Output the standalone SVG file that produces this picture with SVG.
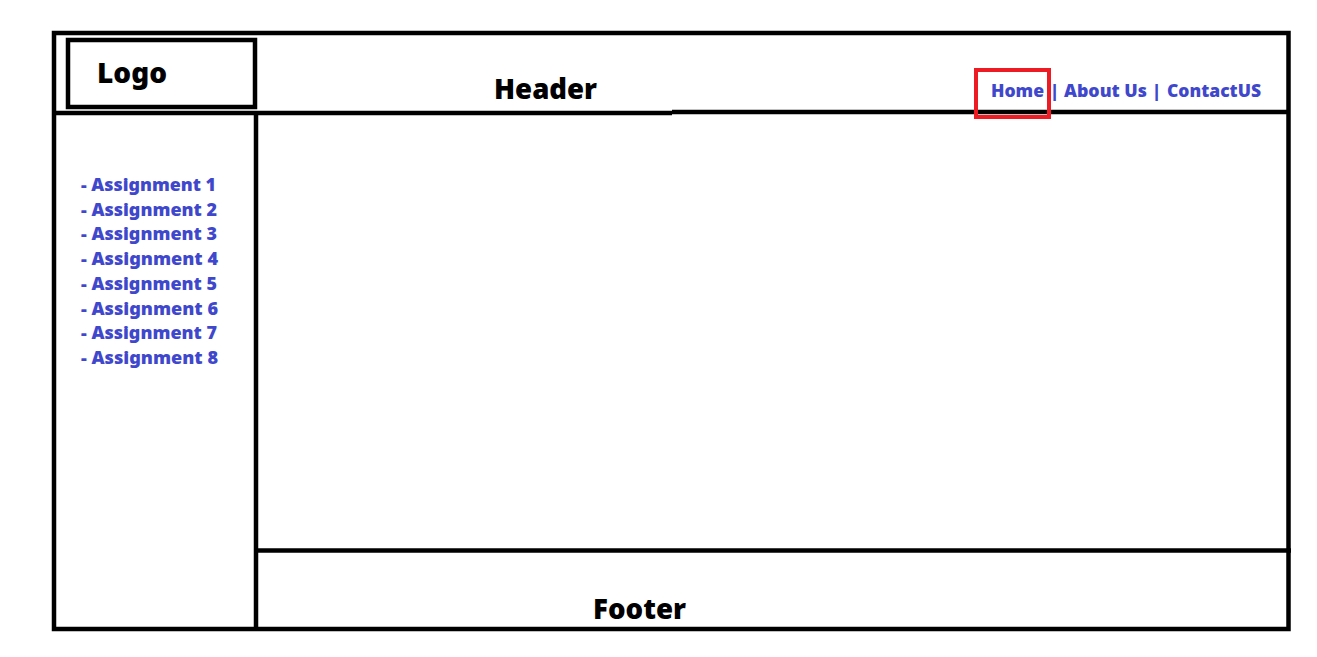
<svg xmlns="http://www.w3.org/2000/svg" width="1317" height="657" viewBox="0 0 1317 657">
<style>
.ln{stroke:#000;stroke-width:4.5;fill:none}
.t{font-family:"Noto Sans","Open Sans","Liberation Sans",sans-serif;font-weight:900;fill:#000;font-size:28px}
.b{font-family:"Noto Sans","Open Sans","Liberation Sans",sans-serif;font-weight:900;fill:#3F48CC;font-size:18px}
</style>
<rect width="1317" height="657" fill="#fff"/>
<g id="frame">
<rect class="ln" x="54" y="33" width="1234.5" height="596"/>
</g>
<g id="logo">
<rect class="ln" x="68" y="40" width="187" height="67"/>
<text class="t" x="97" y="83" textLength="70" lengthAdjust="spacingAndGlyphs">Logo</text>
</g>
<g id="header">
<line class="ln" x1="54" y1="113" x2="672" y2="113"/>
<line class="ln" x1="672" y1="112" x2="1289" y2="112"/>
<text class="t" x="494" y="99" textLength="103" lengthAdjust="spacingAndGlyphs">Header</text>
</g>
<g id="nav">
<text class="b" x="991" y="97" font-size="19" textLength="53" lengthAdjust="spacingAndGlyphs">Home</text>
<text class="b" x="1050" y="97" font-size="19">|</text>
<text class="b" x="1064" y="97" font-size="19" textLength="83" lengthAdjust="spacingAndGlyphs">About Us</text>
<text class="b" x="1152" y="97" font-size="19">|</text>
<text class="b" x="1167" y="97" font-size="19" textLength="94" lengthAdjust="spacingAndGlyphs">ContactUS</text>
<rect x="976" y="70" width="73" height="47" fill="none" stroke="#ED1C24" stroke-width="4"/>
</g>
<g id="sidebar">
<line class="ln" x1="256" y1="113" x2="256" y2="629"/>
<text class="b" x="81" y="191" textLength="135" lengthAdjust="spacingAndGlyphs">- Assignment 1</text>
<text class="b" x="81" y="216" textLength="136" lengthAdjust="spacingAndGlyphs">- Assignment 2</text>
<text class="b" x="81" y="240" textLength="136" lengthAdjust="spacingAndGlyphs">- Assignment 3</text>
<text class="b" x="81" y="265" textLength="137" lengthAdjust="spacingAndGlyphs">- Assignment 4</text>
<text class="b" x="81" y="290" textLength="136" lengthAdjust="spacingAndGlyphs">- Assignment 5</text>
<text class="b" x="81" y="315" textLength="137" lengthAdjust="spacingAndGlyphs">- Assignment 6</text>
<text class="b" x="81" y="339" textLength="136" lengthAdjust="spacingAndGlyphs">- Assignment 7</text>
<text class="b" x="81" y="364" textLength="137" lengthAdjust="spacingAndGlyphs">- Assignment 8</text>
</g>
<g id="footer">
<line class="ln" x1="256" y1="550.5" x2="1291" y2="550.5"/>
<text class="t" x="593" y="619" textLength="93" lengthAdjust="spacingAndGlyphs">Footer</text>
</g>
</svg>
